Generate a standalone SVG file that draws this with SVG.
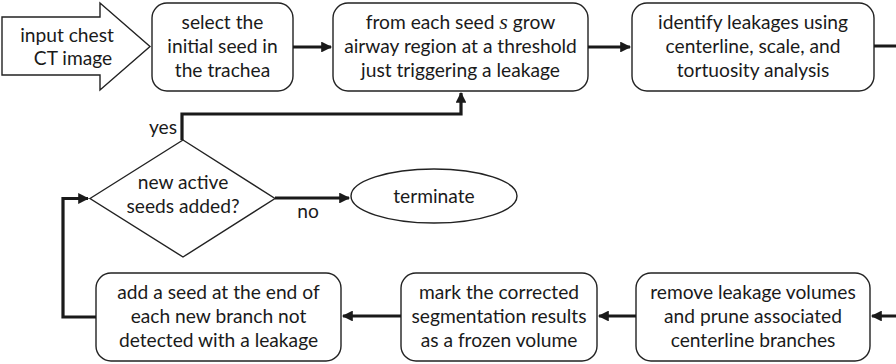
<svg xmlns="http://www.w3.org/2000/svg" width="896" height="364" viewBox="0 0 896 364">
<style>
.box{fill:#fff;stroke:#222;stroke-width:1.4}
.t{font-family:Lato,"Liberation Sans",sans-serif;font-size:19.2px;fill:#1a1a1a;text-anchor:middle}
.c{fill:none;stroke:#1a1a1a;stroke-width:3.2}
</style>
<defs>
<marker id="ah" viewBox="0 0 10 10" refX="9" refY="5" markerWidth="3.8" markerHeight="3.4" orient="auto" markerUnits="strokeWidth">
<path d="M0,0L10,5L0,10z" fill="#1a1a1a"/>
</marker>
</defs>
<rect width="896" height="364" fill="#fff"/>
<g id="input">
<path class="box" d="M2,17H100V3L150,46.5L100,90V75H2z"/>
<text class="t" x="67" y="42">input chest</text>
<text class="t" x="73" y="65">CT image</text>
</g>
<g id="select">
<rect class="box" x="152" y="3" width="141" height="88" rx="15"/>
<text class="t" x="222.5" y="29">select the</text>
<text class="t" x="222.5" y="53">initial seed in</text>
<text class="t" x="222.5" y="77">the trachea</text>
</g>
<g id="grow">
<rect class="box" x="333" y="3" width="255" height="88" rx="15"/>
<text class="t" x="460.5" y="29">from each seed <tspan font-family="'Liberation Serif',serif" font-style="italic" font-size="22">s</tspan> grow</text>
<text class="t" x="460.5" y="53">airway region at a threshold</text>
<text class="t" x="460.5" y="77">just triggering a leakage</text>
</g>
<g id="identify">
<rect class="box" x="632" y="3" width="242" height="88" rx="15"/>
<text class="t" x="753" y="29">identify leakages using</text>
<text class="t" x="753" y="53">centerline, scale, and</text>
<text class="t" x="753" y="77">tortuosity analysis</text>
</g>
<g id="remove">
<rect class="box" x="636" y="273" width="234" height="88" rx="15"/>
<text class="t" x="753" y="299">remove leakage volumes</text>
<text class="t" x="753" y="323">and prune associated</text>
<text class="t" x="753" y="347">centerline branches</text>
</g>
<g id="mark">
<rect class="box" x="401" y="273" width="196" height="88" rx="15"/>
<text class="t" x="499" y="299">mark the corrected</text>
<text class="t" x="499" y="323">segmentation results</text>
<text class="t" x="499" y="347">as a frozen volume</text>
</g>
<g id="add">
<rect class="box" x="96" y="273" width="245" height="88" rx="15"/>
<text class="t" x="218.5" y="299">add a seed at the end of</text>
<text class="t" x="218.5" y="323">each new branch not</text>
<text class="t" x="218.5" y="347">detected with a leakage</text>
</g>
<g id="decision">
<path class="box" d="M90,198.5L183,140L275,198.5L183,257z"/>
<text class="t" x="183" y="189">new active</text>
<text class="t" x="183" y="213">seeds added?</text>
</g>
<g id="terminate">
<ellipse class="box" cx="434" cy="196" rx="83" ry="27"/>
<text class="t" x="434" y="203">terminate</text>
</g>
<g id="connectors">
<path class="c" d="M293,47H331" marker-end="url(#ah)"/>
<path class="c" d="M588,47H630" marker-end="url(#ah)"/>
<path class="c" d="M874,46H902V316H872" marker-end="url(#ah)"/>
<path class="c" d="M636,316H599" marker-end="url(#ah)"/>
<path class="c" d="M401,316H343" marker-end="url(#ah)"/>
<path class="c" d="M96,317H63V198.5H88" marker-end="url(#ah)"/>
<path class="c" d="M275,198H349" marker-end="url(#ah)"/>
<path class="c" d="M182,140V114H461V93" marker-end="url(#ah)"/>
<text class="t" x="163" y="134">yes</text>
<text class="t" x="308" y="218">no</text>
</g>
</svg>
